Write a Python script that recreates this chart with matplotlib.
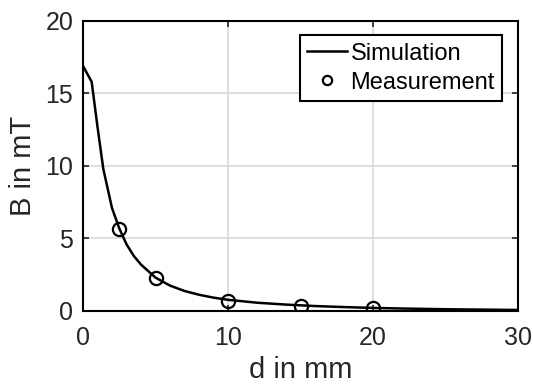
import matplotlib
matplotlib.use("Agg")
import matplotlib.pyplot as plt

plt.rcParams['font.family'] = ['Liberation Sans', 'DejaVu Sans']

sim_d = [0, 0.6, 1.0, 1.4, 2.0, 2.5, 3, 3.5, 4, 5, 6, 7, 8, 9, 10, 12, 14, 15, 16, 18, 20, 22, 25, 28, 30]
sim_B = [16.9, 15.8, 12.7, 9.8, 7.1, 5.7, 4.6, 3.8, 3.2, 2.3, 1.75, 1.38, 1.12, 0.92, 0.77, 0.57, 0.44, 0.39, 0.34, 0.27, 0.21, 0.17, 0.12, 0.09, 0.07]
meas_d = [2.5, 5, 10, 15, 20]
meas_B = [5.65, 2.25, 0.71, 0.35, 0.19]
xticks = [0, 10, 20, 30]
yticks = [0, 5, 10, 15, 20]

fig = plt.figure(figsize=(5.33, 3.88), dpi=100)
ax = fig.add_axes([0.1557, 0.1985, 0.8163, 0.7475])
ax.plot(sim_d, sim_B, color='black', lw=1.8, label='Simulation', zorder=3)
ax.plot(meas_d, meas_B, 'o', mfc='none', mec='black', mew=1.6, ms=9.5, label='Measurement', zorder=4)
ax.set_xlim(0, 30)
ax.set_ylim(0, 20)
ax.set_xticks(xticks)
ax.set_yticks(yticks)
ax.grid(True, color='#d9d9d9', lw=1.2)
ax.set_axisbelow(True)
for s in ax.spines.values():
    s.set_linewidth(1.5)
    s.set_color('black')
ax.tick_params(direction='in', length=4, width=1.2, labelsize=18, top=True, right=True, colors='#222222', labelcolor='#262626', pad=7)
ax.tick_params(axis='x', pad=11)
ax.set_xlabel('d in mm', fontsize=21, color='#262626', labelpad=4)
ax.set_ylabel('B in mT', fontsize=21, color='#262626', labelpad=6)
leg = ax.legend(loc='upper right', fontsize=17, frameon=True, fancybox=False, edgecolor='black',
                borderpad=0.3, handlelength=1.7, handletextpad=0.15, labelspacing=0.3,
                markerscale=0.7, borderaxespad=0, bbox_to_anchor=(0.963, 0.95))
leg.get_frame().set_linewidth(1.5)
leg.get_frame().set_alpha(1)
fig.savefig('out.png', dpi=100)
